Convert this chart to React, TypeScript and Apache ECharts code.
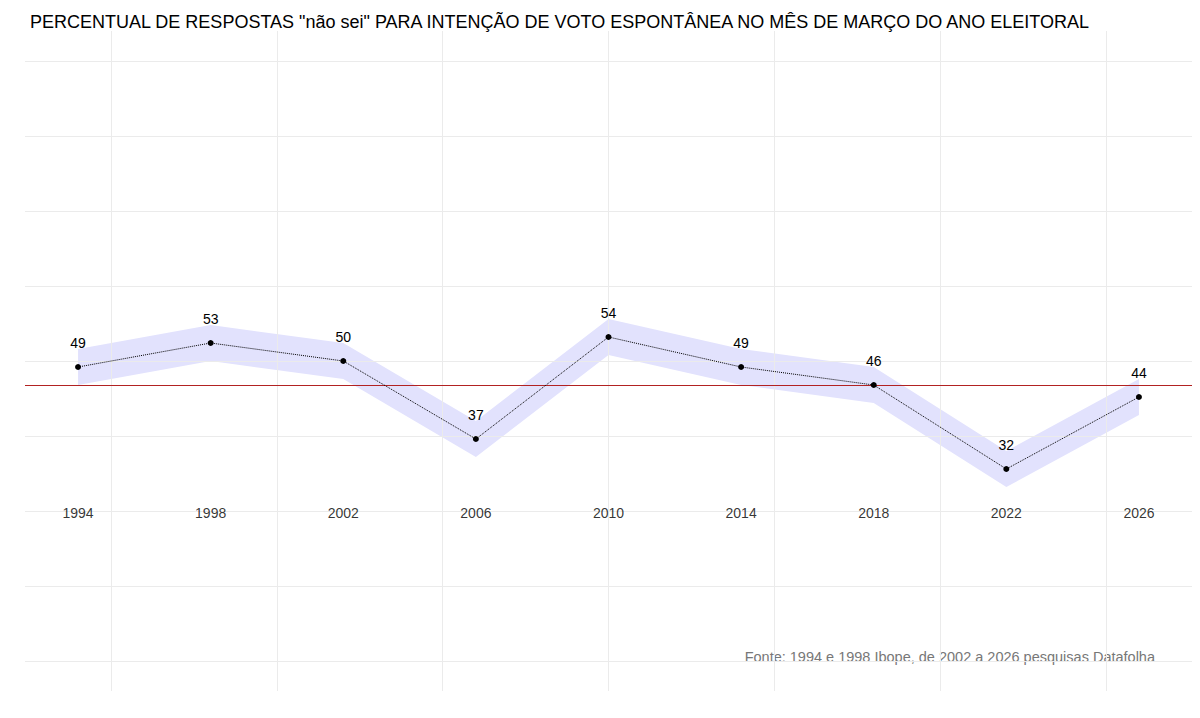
import { useEffect, useRef } from "react";
import * as echarts from "echarts";

const years = [1994, 1998, 2002, 2006, 2010, 2014, 2018, 2022, 2026];
const values = [49, 53, 50, 37, 54, 49, 46, 32, 44];
const band = 3;
const refLine = 46;
const vGrid = [1995, 2000, 2005, 2010, 2015, 2020, 2025];
const hGrid = [0, 12.5, 25, 37.5, 50, 62.5, 75, 87.5, 100];
const yearLabelY = 24.7;
const title = 'PERCENTUAL DE RESPOSTAS "não sei" PARA INTENÇÃO DE VOTO ESPONTÂNEA NO MÊS DE MARÇO DO ANO ELEITORAL';
const source = "Fonte: 1994 e 1998 Ibope, de 2002 a 2026 pesquisas Datafolha";

export default function App() {
  const ref = useRef<HTMLDivElement>(null);

  useEffect(() => {
    if (!ref.current) return;
    const chart = echarts.init(ref.current, undefined, { renderer: "svg" });
    const font = "Liberation Sans, Arial, sans-serif";
    const gridLine = { color: "#ebebeb", width: 1, type: "solid" as const };
    chart.setOption({
      animation: false,
      backgroundColor: "#fff",
      textStyle: { fontFamily: font },
      grid: { left: 17, right: 0, top: 23, bottom: 19 },
      xAxis: { type: "value", min: 1992.4, max: 2027.6, show: false },
      yAxis: { type: "value", min: -5, max: 105, show: false },
      title: {
        text: title, left: 17, top: 0,
        textStyle: { fontSize: 18, fontWeight: "normal", color: "#000", fontFamily: font },
      },
      graphic: [{
        type: "text", right: 37, top: 641,
        style: { text: source, fontSize: 14.5, fill: "#777", fontFamily: font },
      }],
      series: [
        {
          type: "line", data: [], silent: true,
          markLine: {
            symbol: "none", silent: true, label: { show: false },
            lineStyle: gridLine,
            data: [...vGrid.map((x) => ({ xAxis: x })), ...hGrid.map((y) => ({ yAxis: y }))],
          },
        },
        {
          type: "custom", silent: true, data: [0], z: 2,
          renderItem: (_p: any, api: any) => {
            const upper = years.map((y, i) => api.coord([y, values[i] + band]));
            const lower = years.map((y, i) => api.coord([y, values[i] - band])).reverse();
            return {
              type: "polygon",
              shape: { points: [...upper, ...lower] },
              style: { fill: "#e2e2fd" },
            };
          },
        },
        {
          type: "line", data: years.map((y, i) => [y, values[i]]),
          symbol: "circle", symbolSize: 6, itemStyle: { color: "#000" },
          lineStyle: { color: "#000", width: 1, type: "dotted" },
          label: { show: true, position: "top", distance: 14, fontSize: 14, color: "#000", fontFamily: font },
          markLine: {
            symbol: "none", silent: true, label: { show: false },
            lineStyle: { color: "#b22222", width: 1, type: "solid" },
            data: [{ yAxis: refLine }],
          },
          z: 5,
        },
        {
          type: "scatter", symbolSize: 0, data: years.map((y) => [y, yearLabelY]), z: 6,
          label: {
            show: true, position: "inside", fontSize: 14, color: "#000", fontFamily: font,
            formatter: (p: any) => String(p.value[0]),
          },
        },
      ],
    });
    return () => chart.dispose();
  }, []);

  return <div ref={ref} style={{ width: 1184, height: 702 }} />;
}
